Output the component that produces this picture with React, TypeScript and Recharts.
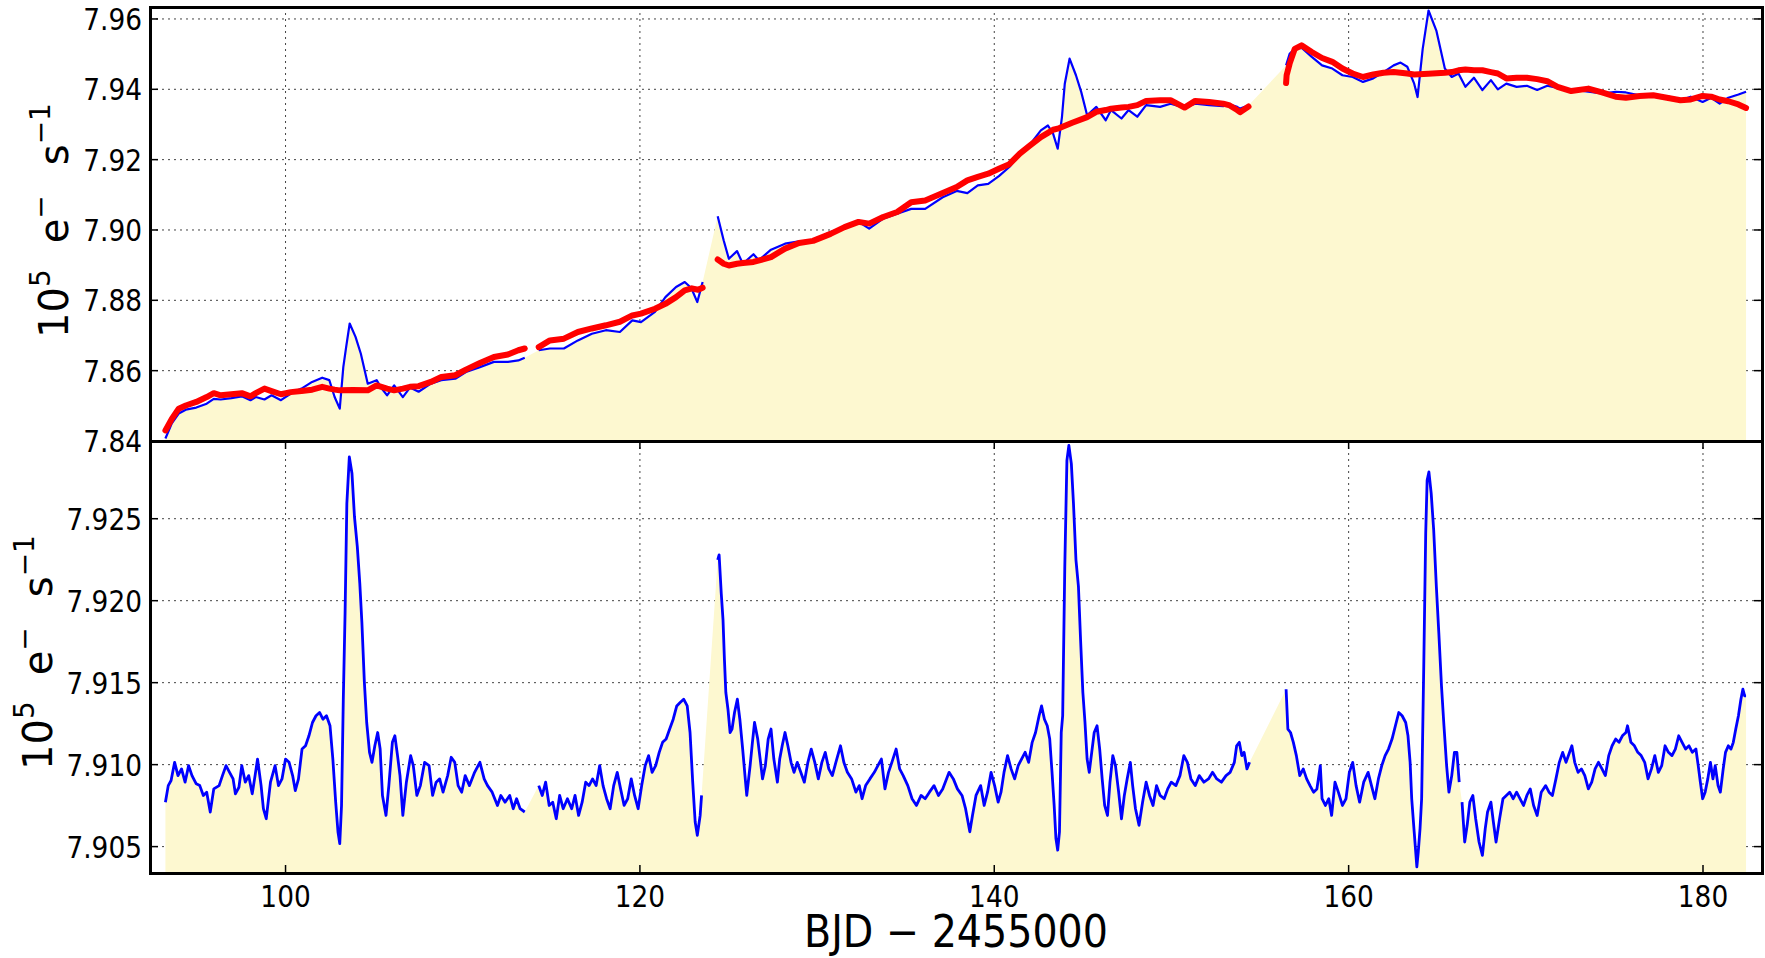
import { ComposedChart, Line, Area, XAxis, YAxis, CartesianGrid } from "recharts";

type Pt = [number, number];

const xTicks = [100, 120, 140, 160, 180];
const topTicks = [7.84, 7.86, 7.88, 7.9, 7.92, 7.94, 7.96];
const bottomTicks = [7.905, 7.91, 7.915, 7.92, 7.925];

// top panel, raw flux (blue), one array per segment between data gaps
const topBlue1: Pt[] = [[93.22,7.8407],[93.58,7.845],[93.97,7.8478],[94.37,7.8489],[94.96,7.8495],[95.55,7.8506],[95.95,7.852],[96.34,7.8518],[96.94,7.8522],[97.53,7.8527],[98.02,7.8516],[98.32,7.8525],[98.81,7.8518],[99.21,7.853],[99.74,7.8516],[100.3,7.8535],[100.9,7.8549],[101.5,7.8568],[102.07,7.858],[102.47,7.8573],[102.77,7.8525],[103.06,7.8492],[103.26,7.861],[103.42,7.8667],[103.62,7.8734],[103.95,7.8696],[104.25,7.8648],[104.64,7.8563],[105.14,7.8573],[105.43,7.8549],[105.73,7.853],[106.13,7.8558],[106.62,7.8525],[107.02,7.8552],[107.51,7.854],[108.2,7.8563],[108.79,7.8573],[109.58,7.8577],[110.18,7.8596],[110.97,7.861],[111.76,7.8625],[112.55,7.8625],[113.14,7.8629],[113.5,7.8637]];
const topBlue2: Pt[] = [[114.29,7.8658],[114.92,7.8663],[115.71,7.8663],[116.5,7.8686],[117.29,7.8705],[118.08,7.8715],[118.87,7.871],[119.57,7.8743],[120.06,7.8738],[120.85,7.8767],[121.44,7.8809],[122.04,7.8838],[122.53,7.8852],[122.9,7.8835],[123.24,7.8795],[123.54,7.8852]];
const topBlue3: Pt[] = [[124.39,7.9039],[124.73,7.897],[125.02,7.8918],[125.48,7.894],[125.81,7.8904],[126.41,7.8931],[126.71,7.8914],[127.4,7.8944],[128.19,7.8961],[128.98,7.8968],[129.77,7.897],[130.76,7.8994],[131.55,7.9008],[132.34,7.9023],[132.94,7.9004],[133.73,7.9032],[134.52,7.9046],[135.31,7.906],[136.1,7.906],[137.09,7.9093],[137.88,7.9111],[138.48,7.9105],[139.07,7.9127],[139.66,7.9131],[140.26,7.9153],[140.85,7.9179],[141.44,7.9215],[142.04,7.9245],[142.63,7.9283],[143.03,7.9297],[143.32,7.9274],[143.58,7.9231],[143.82,7.9321],[143.98,7.9416],[144.25,7.9487],[144.61,7.944],[144.91,7.9392],[145.24,7.9326],[145.76,7.935],[146.29,7.9312],[146.59,7.9341],[147.18,7.9317],[147.58,7.9341],[148.07,7.9322],[148.57,7.9355],[149.36,7.935],[149.95,7.9359],[150.74,7.9348],[151.34,7.9359],[152.13,7.9355],[152.92,7.9352],[153.29,7.9357],[153.71,7.935],[153.87,7.9345],[154.35,7.9354]];
const topBlue4: Pt[] = [[156.47,7.9468],[156.67,7.9501],[156.96,7.9515],[157.34,7.9518],[157.92,7.9492],[158.5,7.9468],[159.08,7.9459],[159.65,7.944],[160.23,7.9435],[160.81,7.9421],[161.39,7.9431],[161.97,7.9449],[162.54,7.9468],[162.93,7.9476],[163.31,7.9464],[163.7,7.9416],[163.89,7.9378],[164.18,7.9515],[164.51,7.9624],[164.95,7.9567],[165.43,7.9459],[165.82,7.9435],[166.2,7.9445],[166.59,7.9407],[167.07,7.9433],[167.55,7.9398],[168.03,7.9426],[168.42,7.94],[168.9,7.9416],[169.48,7.9407],[170.06,7.941],[170.64,7.9398],[171.21,7.941],[171.79,7.9404],[172.56,7.94],[173.53,7.9393],[174.3,7.9388],[175.07,7.9393],[175.65,7.9391],[176.42,7.9383],[177.19,7.9381],[177.96,7.9381],[178.73,7.9369],[179.31,7.9379],[179.98,7.9364],[180.46,7.9376],[180.94,7.9359],[181.43,7.9376],[182.0,7.9385],[182.43,7.9393]];

// top panel, smooth model (red)
const topRed1: Pt[] = [[93.22,7.843],[93.58,7.8463],[93.97,7.8492],[94.37,7.8501],[94.96,7.8511],[95.55,7.8525],[95.95,7.8536],[96.34,7.853],[96.94,7.8533],[97.53,7.8536],[98.02,7.8527],[98.32,7.8536],[98.81,7.8549],[99.21,7.8542],[99.74,7.8533],[100.3,7.8539],[100.9,7.8542],[101.5,7.8546],[102.07,7.8554],[102.47,7.8549],[102.77,7.8546],[103.06,7.8544],[103.8,7.8545],[104.64,7.8544],[105.14,7.8558],[105.73,7.8549],[106.13,7.8544],[106.62,7.8549],[107.02,7.8554],[107.51,7.8556],[108.2,7.8568],[108.79,7.8582],[109.58,7.8587],[110.18,7.8603],[110.97,7.8622],[111.76,7.8639],[112.55,7.8646],[113.14,7.8658],[113.5,7.8663]];
const topRed2: Pt[] = [[114.29,7.8667],[114.92,7.8686],[115.71,7.8691],[116.5,7.871],[117.29,7.872],[118.08,7.8729],[118.87,7.8739],[119.57,7.8757],[120.06,7.8762],[120.85,7.8776],[121.44,7.879],[122.04,7.8809],[122.53,7.8828],[122.93,7.8834],[123.28,7.883],[123.54,7.8836]];
const topRed3: Pt[] = [[124.39,7.8916],[124.73,7.8904],[125.02,7.8899],[125.48,7.8904],[125.81,7.8906],[126.41,7.8909],[127.4,7.8923],[128.19,7.8947],[128.98,7.8963],[129.77,7.8969],[130.76,7.8989],[131.55,7.9008],[132.34,7.9023],[132.94,7.9018],[133.73,7.9037],[134.52,7.9051],[135.31,7.9079],[136.1,7.9084],[137.09,7.9105],[137.88,7.9122],[138.48,7.9141],[139.07,7.9151],[139.66,7.916],[140.26,7.9174],[140.85,7.9187],[141.44,7.9217],[142.04,7.9241],[142.63,7.9264],[143.03,7.9276],[143.32,7.9285],[143.58,7.9288],[144.4,7.9305],[145.24,7.9321],[145.76,7.9336],[146.29,7.9341],[146.59,7.9345],[147.18,7.9348],[147.58,7.935],[148.07,7.9355],[148.57,7.9367],[149.36,7.9369],[149.95,7.9369],[150.74,7.9348],[151.34,7.9367],[152.13,7.9364],[152.92,7.9359],[153.29,7.9354],[153.71,7.9341],[153.87,7.9335],[154.35,7.9351]];
const topRed4: Pt[] = [[156.47,7.9418],[156.5,7.944],[156.67,7.9473],[156.96,7.9515],[157.34,7.9525],[157.92,7.9506],[158.5,7.9489],[159.08,7.9478],[159.65,7.9459],[160.23,7.9445],[160.81,7.9435],[161.39,7.9442],[161.97,7.9447],[162.54,7.9449],[162.93,7.9447],[163.31,7.9445],[163.7,7.9442],[164.5,7.9444],[165.43,7.9447],[165.82,7.9449],[166.2,7.9454],[166.59,7.9456],[167.07,7.9454],[167.55,7.9454],[168.03,7.9449],[168.42,7.9445],[168.9,7.9431],[169.48,7.9433],[170.06,7.9433],[170.64,7.9429],[171.21,7.9423],[171.79,7.9407],[172.56,7.9395],[173.53,7.9402],[174.3,7.9391],[175.07,7.9379],[175.65,7.9376],[176.42,7.9381],[177.19,7.9383],[177.96,7.9376],[178.73,7.9369],[179.31,7.9371],[179.98,7.9381],[180.46,7.9379],[180.94,7.9371],[181.43,7.9366],[182.0,7.9357],[182.43,7.9347]];

// bottom panel, corrected flux (blue)
const bottomBlue1: Pt[] = [[93.22,7.90771],[93.38,7.90872],[93.54,7.90903],[93.74,7.91014],[93.93,7.90933],[94.13,7.90974],[94.33,7.90893],[94.53,7.90994],[94.72,7.90933],[94.96,7.90883],[95.16,7.90872],[95.36,7.90812],[95.55,7.90832],[95.75,7.90711],[95.95,7.90852],[96.25,7.90872],[96.44,7.90933],[96.64,7.90994],[96.84,7.90953],[97.04,7.90913],[97.17,7.90822],[97.37,7.90862],[97.53,7.90994],[97.73,7.90893],[97.92,7.90933],[98.12,7.90822],[98.28,7.90933],[98.42,7.91034],[98.62,7.90872],[98.75,7.90731],[98.91,7.9067],[99.15,7.90893],[99.41,7.90994],[99.6,7.90872],[99.8,7.90913],[100.0,7.91034],[100.2,7.91014],[100.4,7.90933],[100.55,7.90842],[100.73,7.90913],[100.93,7.91095],[101.13,7.91115],[101.32,7.91176],[101.52,7.91257],[101.72,7.91298],[101.92,7.91318],[102.11,7.91277],[102.31,7.91298],[102.51,7.91237],[102.67,7.91034],[102.83,7.90771],[102.96,7.90589],[103.06,7.90518],[103.16,7.90751],[103.26,7.91399],[103.36,7.91925],[103.46,7.92593],[103.6,7.92877],[103.75,7.92776],[103.89,7.92512],[104.05,7.9233],[104.19,7.92107],[104.31,7.91864],[104.45,7.915],[104.58,7.91257],[104.74,7.91075],[104.88,7.91014],[105.04,7.91115],[105.2,7.91196],[105.34,7.91095],[105.47,7.90812],[105.67,7.9069],[105.83,7.90872],[106.03,7.91136],[106.17,7.91176],[106.32,7.91055],[106.46,7.90933],[106.62,7.9069],[106.82,7.90893],[107.06,7.91055],[107.21,7.90994],[107.41,7.90812],[107.61,7.90872],[107.85,7.91014],[108.1,7.90994],[108.3,7.90812],[108.5,7.90893],[108.7,7.90913],[108.89,7.90832],[109.15,7.90933],[109.35,7.91045],[109.55,7.91014],[109.74,7.90872],[109.94,7.90832],[110.14,7.90933],[110.38,7.90872],[110.67,7.90953],[110.97,7.91014],[111.21,7.90913],[111.4,7.90872],[111.66,7.90832],[111.96,7.90751],[112.15,7.90812],[112.39,7.90771],[112.65,7.90812],[112.85,7.90731],[113.04,7.90792],[113.24,7.90731],[113.5,7.90711]];
const bottomBlue2: Pt[] = [[114.29,7.90872],[114.49,7.90812],[114.68,7.90893],[114.88,7.90751],[115.08,7.90771],[115.28,7.9067],[115.47,7.90812],[115.67,7.90731],[115.91,7.90792],[116.15,7.90731],[116.34,7.90812],[116.54,7.9069],[116.74,7.90771],[116.94,7.90893],[117.13,7.90872],[117.33,7.90913],[117.53,7.90872],[117.73,7.90994],[117.92,7.90872],[118.12,7.90792],[118.32,7.90731],[118.52,7.90872],[118.72,7.90953],[118.91,7.90852],[119.11,7.90751],[119.31,7.90792],[119.51,7.90913],[119.7,7.90812],[119.9,7.90731],[120.1,7.90872],[120.3,7.90994],[120.49,7.91055],[120.69,7.90953],[120.89,7.90994],[121.09,7.91075],[121.28,7.91136],[121.48,7.91156],[121.68,7.91217],[121.88,7.91277],[122.08,7.91358],[122.27,7.91379],[122.47,7.91399],[122.67,7.91358],[122.83,7.91196],[122.98,7.90893],[123.12,7.9065],[123.24,7.90569],[123.4,7.9069],[123.48,7.90812]];
const bottomBlue3: Pt[] = [[124.39,7.92249],[124.47,7.92279],[124.59,7.92046],[124.69,7.91885],[124.77,7.91642],[124.85,7.9144],[124.97,7.91338],[125.09,7.91196],[125.2,7.91217],[125.34,7.91318],[125.5,7.91399],[125.64,7.91277],[125.8,7.91095],[125.93,7.90933],[126.03,7.90812],[126.22,7.90994],[126.35,7.91136],[126.47,7.91257],[126.65,7.91156],[126.81,7.91014],[126.92,7.90913],[127.08,7.90994],[127.24,7.91156],[127.4,7.91217],[127.56,7.91034],[127.76,7.90893],[127.89,7.91034],[128.03,7.91115],[128.19,7.91196],[128.35,7.91115],[128.53,7.91014],[128.7,7.90953],[128.88,7.91014],[129.08,7.90953],[129.28,7.90893],[129.48,7.91014],[129.67,7.91095],[129.87,7.91014],[130.07,7.90913],[130.27,7.91014],[130.46,7.91075],[130.66,7.90974],[130.86,7.90933],[131.06,7.91014],[131.32,7.91115],[131.51,7.91014],[131.71,7.90953],[131.95,7.90913],[132.19,7.90832],[132.38,7.90872],[132.54,7.90792],[132.74,7.90872],[132.98,7.90913],[133.23,7.90953],[133.43,7.90994],[133.63,7.91034],[133.83,7.90852],[134.03,7.90953],[134.22,7.91014],[134.46,7.91095],[134.66,7.90974],[134.86,7.90933],[135.12,7.90872],[135.36,7.90792],[135.61,7.90751],[135.87,7.90812],[136.1,7.90792],[136.34,7.90832],[136.6,7.90872],[136.85,7.90812],[137.09,7.90852],[137.45,7.90953],[137.69,7.90913],[137.92,7.90852],[138.18,7.90812],[138.38,7.90731],[138.62,7.9059],[138.77,7.9069],[138.97,7.90812],[139.23,7.90872],[139.43,7.90751],[139.62,7.90832],[139.82,7.90953],[140.02,7.90872],[140.22,7.90771],[140.38,7.90832],[140.55,7.90953],[140.75,7.91055],[140.95,7.90974],[141.15,7.90913],[141.35,7.90994],[141.54,7.91034],[141.74,7.91075],[141.94,7.91014],[142.14,7.91136],[142.33,7.91196],[142.53,7.91298],[142.67,7.91358],[142.83,7.91277],[142.99,7.91237],[143.13,7.91156],[143.26,7.90953],[143.38,7.90751],[143.48,7.90549],[143.58,7.90478],[143.68,7.9059],[143.78,7.91196],[143.86,7.91298],[143.98,7.92209],[144.1,7.92856],[144.21,7.92947],[144.35,7.92836],[144.47,7.92593],[144.61,7.92249],[144.75,7.92087],[144.87,7.91763],[145.0,7.9144],[145.12,7.91257],[145.24,7.91034],[145.36,7.90953],[145.5,7.91075],[145.64,7.91196],[145.8,7.91237],[145.95,7.91095],[146.09,7.90913],[146.23,7.90751],[146.39,7.9069],[146.53,7.90893],[146.69,7.91055],[146.84,7.90994],[147.02,7.90832],[147.18,7.9067],[147.34,7.90812],[147.5,7.90913],[147.68,7.91014],[147.81,7.90872],[147.97,7.90731],[148.17,7.9063],[148.37,7.90771],[148.57,7.90893],[148.76,7.90812],[148.96,7.90751],[149.16,7.90872],[149.36,7.90812],[149.59,7.90792],[149.79,7.90852],[149.99,7.90893],[150.25,7.90872],[150.48,7.90933],[150.7,7.91055],[150.9,7.91014],[151.1,7.90913],[151.34,7.90872],[151.57,7.90933],[151.83,7.90893],[152.09,7.90913],[152.32,7.90953],[152.56,7.90913],[152.82,7.90893],[153.08,7.90933],[153.31,7.90953],[153.55,7.91014],[153.68,7.91115],[153.83,7.91136],[153.97,7.91055],[154.1,7.91075],[154.26,7.90974],[154.41,7.91014]];
const bottomBlue4: Pt[] = [[156.47,7.9146],[156.57,7.91217],[156.72,7.91196],[156.88,7.91136],[157.05,7.91055],[157.24,7.90933],[157.44,7.90974],[157.63,7.90913],[157.82,7.90872],[158.02,7.90832],[158.21,7.90852],[158.4,7.90994],[158.5,7.90792],[158.69,7.90751],[158.88,7.90792],[159.04,7.9069],[159.23,7.90893],[159.42,7.90832],[159.65,7.90751],[159.85,7.90792],[160.04,7.90953],[160.23,7.91014],[160.42,7.90872],[160.62,7.90771],[160.85,7.90893],[161.1,7.90953],[161.29,7.90872],[161.48,7.90792],[161.68,7.90913],[161.87,7.90994],[162.06,7.91055],[162.25,7.91095],[162.45,7.91156],[162.64,7.91237],[162.83,7.91318],[163.02,7.91298],[163.22,7.91257],[163.35,7.91176],[163.47,7.91014],[163.56,7.90792],[163.7,7.9059],[163.85,7.90377],[163.93,7.90468],[164.03,7.9061],[164.12,7.90792],[164.24,7.91601],[164.35,7.92411],[164.43,7.92735],[164.53,7.92785],[164.66,7.92654],[164.8,7.92431],[164.95,7.92087],[165.09,7.91804],[165.24,7.9148],[165.38,7.91237],[165.53,7.90994],[165.66,7.90832],[165.82,7.90933],[165.97,7.91075],[166.11,7.91075],[166.24,7.90893]];
const bottomBlue5: Pt[] = [[166.4,7.90771],[166.55,7.90528],[166.69,7.9063],[166.84,7.90771],[167.01,7.90812],[167.17,7.9067],[167.36,7.90528],[167.55,7.90447],[167.71,7.9061],[167.84,7.90711],[168.03,7.90771],[168.17,7.9065],[168.32,7.90528],[168.52,7.9067],[168.71,7.90792],[168.9,7.90812],[169.09,7.90832],[169.29,7.90792],[169.48,7.90832],[169.67,7.90792],[169.87,7.90751],[170.06,7.90812],[170.25,7.90852],[170.44,7.90751],[170.64,7.9069],[170.87,7.90832],[171.12,7.90872],[171.31,7.90832],[171.5,7.90812],[171.7,7.90913],[171.89,7.91014],[172.08,7.91075],[172.27,7.91014],[172.47,7.91075],[172.6,7.91115],[172.76,7.91014],[172.95,7.90953],[173.14,7.90974],[173.33,7.90933],[173.53,7.90852],[173.72,7.90893],[173.91,7.90974],[174.1,7.91014],[174.3,7.90974],[174.49,7.90933],[174.68,7.91055],[174.87,7.91115],[175.07,7.91156],[175.26,7.91136],[175.45,7.91176],[175.65,7.91196],[175.74,7.91237],[175.93,7.91136],[176.13,7.91115],[176.32,7.91075],[176.51,7.91055],[176.71,7.91014],[176.9,7.90913],[177.09,7.90974],[177.28,7.91055],[177.48,7.90953],[177.67,7.90994],[177.86,7.91115],[178.05,7.91075],[178.25,7.91055],[178.44,7.91095],[178.63,7.91176],[178.82,7.91136],[179.02,7.91095],[179.21,7.91115],[179.4,7.91075],[179.6,7.91095],[179.73,7.90994],[179.85,7.90893],[179.98,7.90792],[180.12,7.90832],[180.27,7.90913],[180.42,7.91014],[180.56,7.90913],[180.69,7.90994],[180.85,7.90872],[180.98,7.90832],[181.14,7.90974],[181.27,7.91075],[181.43,7.91115],[181.58,7.91095],[181.71,7.91136],[181.85,7.91217],[182.0,7.91298],[182.14,7.91399],[182.25,7.9146],[182.35,7.91419],[182.43,7.91419]];

const topBlue = [topBlue1, topBlue2, topBlue3, topBlue4];
const topRed = [topRed1, topRed2, topRed3, topRed4];
const bottomBlue = [bottomBlue1, bottomBlue2, bottomBlue3, bottomBlue4, bottomBlue5];

const W = 1765;
const H = 958;
const PLOT_LEFT = 150;
const PLOT_RIGHT = 1762;
const TOP_Y = 7;
const MID_Y = 441;
const BOTTOM_Y = 873;
const TOP_PAD = 30; // room under the top panel for its lowest tick label
const X_DOMAIN: [number, number] = [92.35, 183.33];
const TOP_DOMAIN: [number, number] = [7.84, 7.9634];
const BOTTOM_DOMAIN: [number, number] = [7.90339, 7.92974];

const FONT = "DejaVu Sans";
const FILL = "#fdf8d0";
const BLUE = "#0000ff";
const RED = "#ff0000";
const SQUEEZE = 0.88; // tick text in the figure is narrower than DejaVu

const rows = (pts: Pt[]) => pts.map(([x, y]) => ({ x, y }));

const yTick = (digits: number) => (props: any) => {
  const { y, payload } = props;
  return (
    <g>
      <line x1={PLOT_LEFT} x2={PLOT_LEFT + 8} y1={y} y2={y} stroke="#000" strokeWidth={1.5} />
      <line x1={PLOT_RIGHT - 8} x2={PLOT_RIGHT} y1={y} y2={y} stroke="#000" strokeWidth={1.5} />
      <text
        transform={`translate(142,${y + 11}) scale(${SQUEEZE},1)`}
        textAnchor="end"
        fontSize={30}
        fontFamily={FONT}
        fill="#000"
      >
        {Number(payload.value).toFixed(digits)}
      </text>
    </g>
  );
};

const xTick = (top: number, bottom: number, labelY?: number) => (props: any) => {
  const { x, payload } = props;
  return (
    <g>
      <line x1={x} x2={x} y1={top} y2={top + 8} stroke="#000" strokeWidth={1.5} />
      <line x1={x} x2={x} y1={bottom - 8} y2={bottom} stroke="#000" strokeWidth={1.5} />
      {labelY !== undefined && (
        <text
          transform={`translate(${x},${labelY}) scale(${SQUEEZE},1)`}
          textAnchor="middle"
          fontSize={30}
          fontFamily={FONT}
          fill="#000"
        >
          {payload.value}
        </text>
      )}
    </g>
  );
};

// 10^5 e^- s^-1, rotated, starting at (x, y) and reading upwards
const UnitLabel = ({ x, y }: { x: number; y: number }) => (
  <text transform={`translate(${x},${y}) rotate(-90)`} fontSize={40} fontFamily={FONT} fill="#000">
    <tspan>10</tspan>
    <tspan fontSize={28} dy={-18}>5</tspan>
    <tspan dx={26} dy={18}>e</tspan>
    <tspan fontSize={28} dy={-18}>−</tspan>
    <tspan dx={30} dy={18}>s</tspan>
    <tspan fontSize={28} dy={-18}>−1</tspan>
  </text>
);

const Frame = ({ top, bottom }: { top: number; bottom: number }) => (
  <div
    style={{
      position: "absolute",
      left: PLOT_LEFT - 1.5,
      top: top - 1.5,
      width: PLOT_RIGHT - PLOT_LEFT + 3,
      height: bottom - top + 3,
      border: "3px solid #000",
      boxSizing: "border-box",
      pointerEvents: "none",
    }}
  />
);

const TopPanel = () => (
  <ComposedChart
    width={W}
    height={MID_Y + TOP_PAD}
    margin={{ top: TOP_Y, right: W - PLOT_RIGHT, bottom: TOP_PAD, left: 0 }}
  >
    <XAxis
      type="number"
      dataKey="x"
      domain={X_DOMAIN}
      ticks={xTicks}
      interval={0}
      allowDataOverflow
      height={0}
      axisLine={false}
      tickLine={false}
      tick={xTick(TOP_Y, MID_Y)}
    />
    <YAxis
      type="number"
      domain={TOP_DOMAIN}
      ticks={topTicks}
      interval={0}
      allowDataOverflow
      width={PLOT_LEFT}
      axisLine={false}
      tickLine={false}
      tick={yTick(2)}
      label={{ content: () => <UnitLabel x={68} y={338} /> }}
    />
    <Area
      data={rows(topBlue.flat())}
      dataKey="y"
      type="linear"
      stroke="none"
      fill={FILL}
      fillOpacity={1}
      baseValue={TOP_DOMAIN[0]}
      isAnimationActive={false}
    />
    <CartesianGrid stroke="#444" strokeDasharray="2 4" strokeWidth={1} />
    {topBlue.map((seg, i) => (
      <Line
        key={`b${i}`}
        data={rows(seg)}
        dataKey="y"
        type="linear"
        stroke={BLUE}
        strokeWidth={2.2}
        strokeLinejoin="round"
        dot={false}
        isAnimationActive={false}
      />
    ))}
    {topRed.map((seg, i) => (
      <Line
        key={`r${i}`}
        data={rows(seg)}
        dataKey="y"
        type="linear"
        stroke={RED}
        strokeWidth={6}
        strokeLinecap="round"
        strokeLinejoin="round"
        dot={false}
        isAnimationActive={false}
      />
    ))}
  </ComposedChart>
);

const BottomPanel = () => {
  const plotH = BOTTOM_Y - MID_Y;
  const chartH = H - MID_Y;
  return (
    <ComposedChart
      width={W}
      height={chartH}
      margin={{ top: 0, right: W - PLOT_RIGHT, bottom: 0, left: 0 }}
    >
      <XAxis
        type="number"
        dataKey="x"
        domain={X_DOMAIN}
        ticks={xTicks}
        interval={0}
        allowDataOverflow
        height={chartH - plotH}
        axisLine={false}
        tickLine={false}
        tick={xTick(0, plotH, plotH + 34)}
        label={{
          content: () => (
            <text
              transform={`translate(${(PLOT_LEFT + PLOT_RIGHT) / 2},${plotH + 74}) scale(0.9,1)`}
              textAnchor="middle"
              fontSize={44}
              fontFamily={FONT}
              fill="#000"
            >
              BJD − 2455000
            </text>
          ),
        }}
      />
      <YAxis
        type="number"
        domain={BOTTOM_DOMAIN}
        ticks={bottomTicks}
        interval={0}
        allowDataOverflow
        width={PLOT_LEFT}
        axisLine={false}
        tickLine={false}
        tick={yTick(3)}
        label={{ content: () => <UnitLabel x={52} y={329} /> }}
      />
      <Area
        data={rows(bottomBlue.flat())}
        dataKey="y"
        type="linear"
        stroke="none"
        fill={FILL}
        fillOpacity={1}
        baseValue={BOTTOM_DOMAIN[0]}
        isAnimationActive={false}
      />
      <CartesianGrid stroke="#444" strokeDasharray="2 4" strokeWidth={1} />
      {bottomBlue.map((seg, i) => (
        <Line
          key={`b${i}`}
          data={rows(seg)}
          dataKey="y"
          type="linear"
          stroke={BLUE}
          strokeWidth={2.8}
          strokeLinejoin="round"
          dot={false}
          isAnimationActive={false}
        />
      ))}
    </ComposedChart>
  );
};

export default function App() {
  return (
    <div
      style={{
        position: "absolute",
        left: 0,
        top: 0,
        width: W,
        height: H,
        background: "#fff",
        overflow: "hidden",
      }}
    >
      <div style={{ position: "absolute", left: 0, top: 0 }}>
        <TopPanel />
      </div>
      <div style={{ position: "absolute", left: 0, top: MID_Y }}>
        <BottomPanel />
      </div>
      <Frame top={TOP_Y} bottom={MID_Y} />
      <Frame top={MID_Y} bottom={BOTTOM_Y} />
    </div>
  );
}
